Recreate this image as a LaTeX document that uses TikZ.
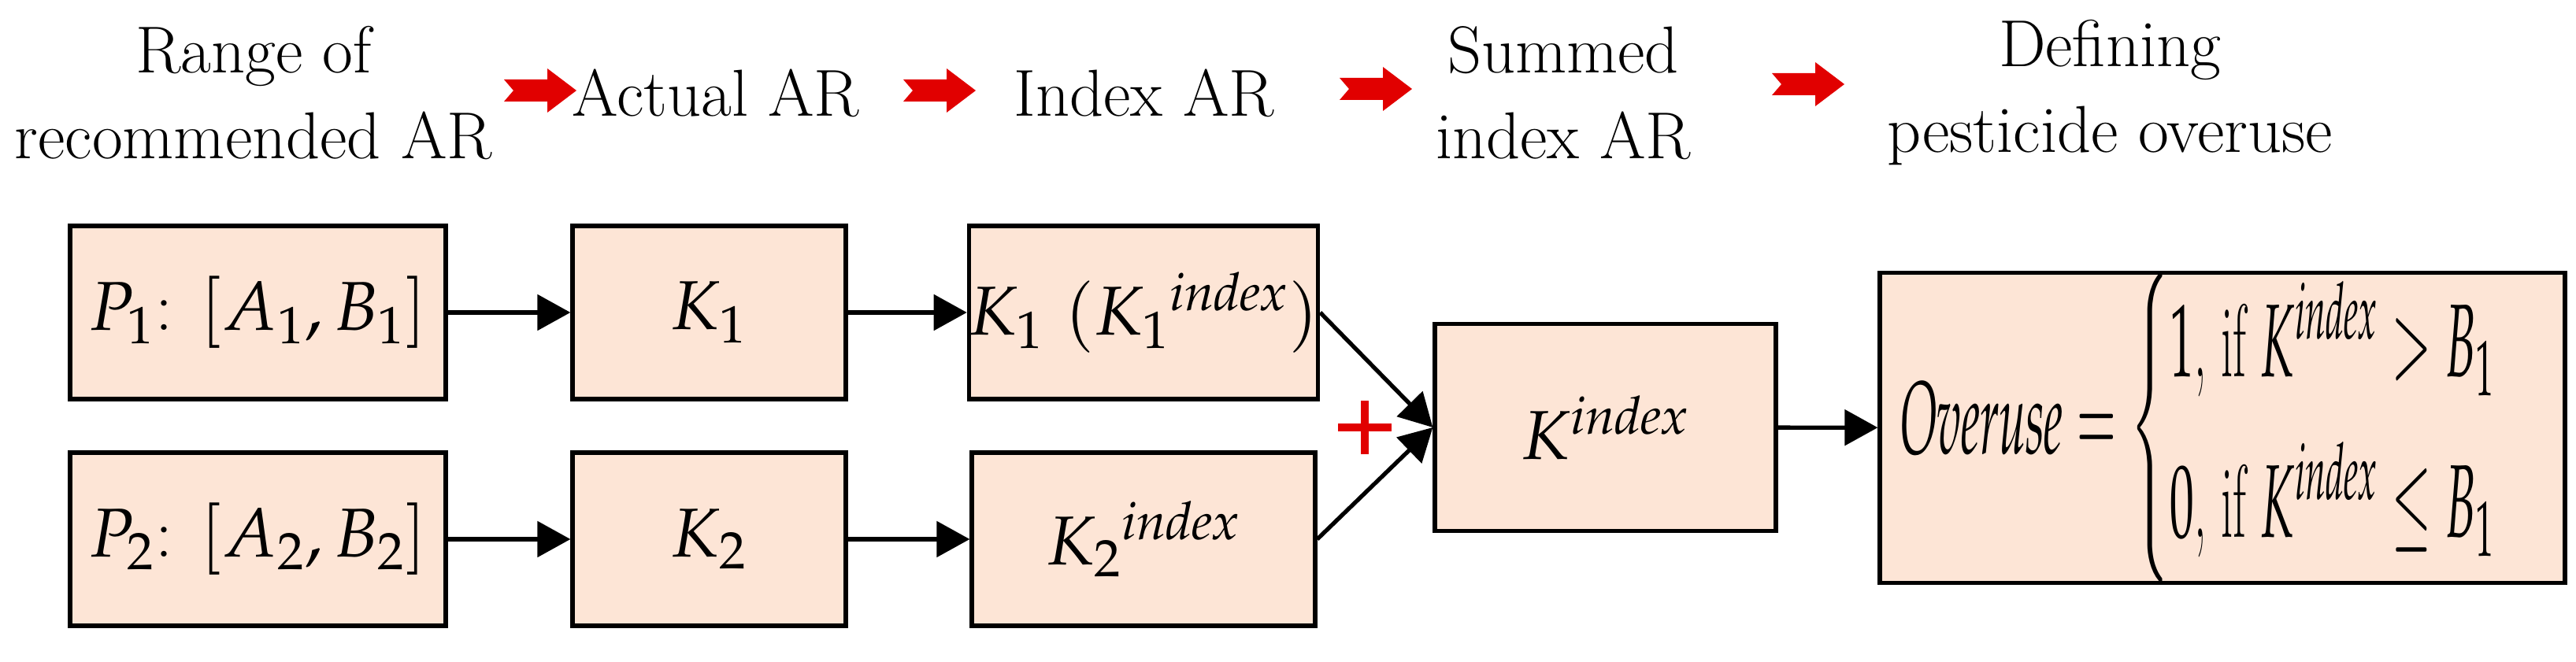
\documentclass[tikz,border=0pt]{standalone}
\usepackage{amsmath}
\usepackage{mathpazo}
\usepackage{graphicx}
\usetikzlibrary{arrows.meta}
\begin{document}
\begin{tikzpicture}[
  box/.style={draw=black, line width=1.5pt, fill={rgb,255:red,253;green,229;blue,214}, minimum height=2.2cm, inner sep=0pt, font=\fontsize{25}{29}\selectfont},
  con/.style={line width=1.5pt, -{Triangle[length=0.42cm,width=0.45cm]}},
  ttl/.style={font=\fontsize{24}{31}\selectfont, align=center, inner sep=0pt},
  redarr/.style={fill={rgb,255:red,225;green,0;blue,0}, draw=none}
]
\useasboundingbox (0,0) rectangle (32.71,8.41);
% titles
\node[ttl] (t1) at (3.22,7.23) {Range of\\recommended AR};
\node[ttl] (t2) at (9.09,7.23) {Actual AR};
\node[ttl] (t3) at (14.53,7.23) {Index AR};
\node[ttl] (t4) at (19.85,7.23) {Summed\\index AR};
\node[ttl] (t5) at (26.79,7.23) {Defining\\pesticide overuse};
% red arrows
\foreach \x/\y in {6.40/7.26, 11.47/7.26, 17.01/7.28, 22.50/7.34}{
  \fill[redarr] (\x,\y) ++(0,0.14) -- ++(0.55,0) -- ++(0,0.14) -- ++(0.37,-0.28) -- ++(-0.37,-0.28) -- ++(0,0.14) -- ++(-0.55,0) -- ++(0.12,0.14) -- cycle;
}
% boxes
\node[box, minimum width=4.77cm] (p1) at (3.275,4.44) {$P_1$: $[A_1, B_1]$};
\node[box, minimum width=3.47cm] (k1) at (9.005,4.44) {$K_1$};
\node[box, minimum width=4.36cm] (i1) at (14.52,4.44) {$K_1$ $(K_1{}^{\mathit{index}})$};
\node[box, minimum width=4.77cm] (p2) at (3.275,1.56) {$P_2$: $[A_2, B_2]$};
\node[box, minimum width=3.47cm] (k2) at (9.005,1.56) {$K_2$};
\node[box, minimum width=4.36cm] (i2) at (14.52,1.56) {$K_2{}^{\mathit{index}}$};
\node[box, minimum width=4.33cm, minimum height=2.63cm] (ks) at (20.385,2.98) {$K^{\mathit{index}}$};
\node[box, minimum width=8.70cm, minimum height=3.27cm] (ov) at (28.22,2.975) {\resizebox{8.2cm}{2.3cm}{$\mathit{Overuse}=\begin{cases}1\text{, if } K^{\mathit{index}} > B_1\\[4pt] 0\text{, if } K^{\mathit{index}} \le B_1\end{cases}$}};
\coordinate (plus) at (17.33,2.98);
\draw[line width=0.1cm, draw={rgb,255:red,225;green,0;blue,0}] ([xshift=-0.34cm]plus) -- ([xshift=0.34cm]plus) ([yshift=-0.34cm]plus) -- ([yshift=0.34cm]plus);
% connectors
\draw[con] (p1) -- (k1);
\draw[con] (k1) -- (i1);
\draw[con] (p2) -- (k2);
\draw[con] (k2) -- (i2);
\draw[con] (i1.east) -- (ks.west);
\draw[con] (i2.east) -- (ks.west);
\draw[con] (ks) -- (ov);
\end{tikzpicture}
\end{document}
